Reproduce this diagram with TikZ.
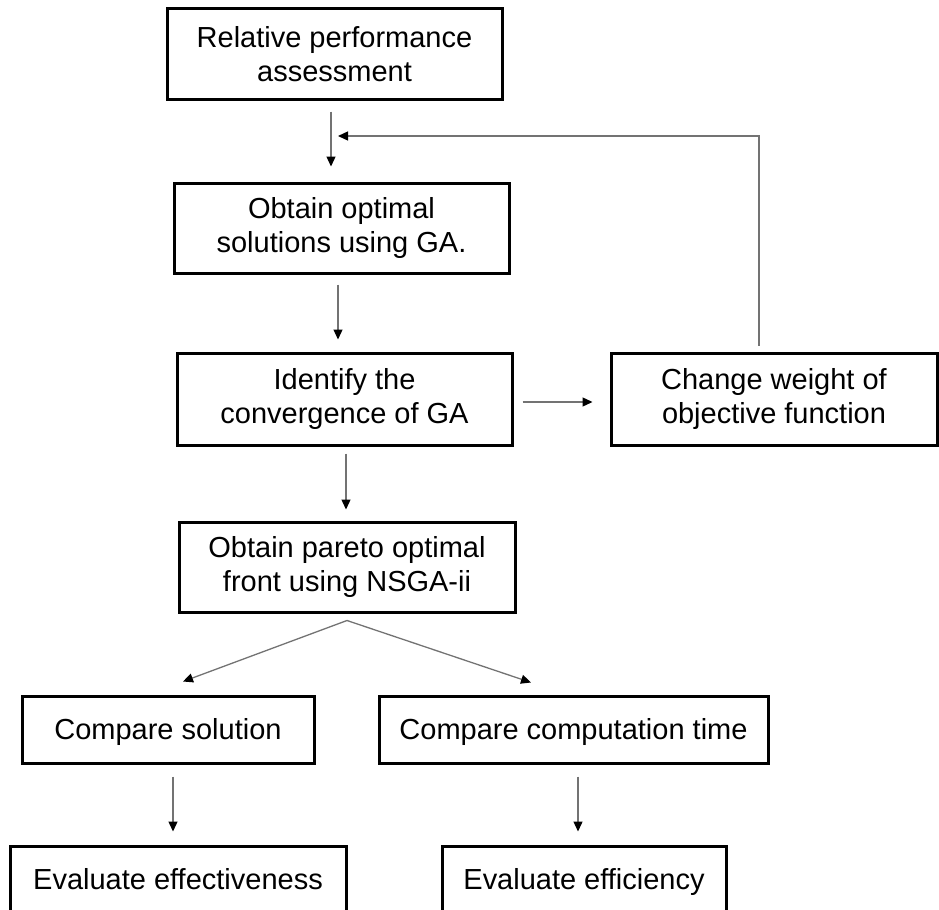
\documentclass[tikz,border=0pt]{standalone}
\usepackage{fontspec}
\setmainfont{Liberation Sans}
\usetikzlibrary{arrows.meta, positioning}

\newlength{\px}
\setlength{\px}{0.02cm}

\tikzset{
  stepbox/.style={draw=black, line width=3\px, inner sep=0pt, align=center,
    font=\fontsize{16.5}{19.5}\selectfont},
  onebox/.style={stepbox, minimum height=67\px, text height=0.415cm, text depth=0cm},
  arr/.style={draw=black!55, line width=1.3\px,
    -{Triangle[length=0.2cm, width=0.18cm, color=black]}},
}

\begin{document}
\begin{tikzpicture}[x=1\px, y=-1\px]
\useasboundingbox (0,0) rectangle (939,909);

% BOXES
\node[stepbox, minimum width=335\px, minimum height=91\px] (relperf) at (334.5,54.5) {Relative performance\\assessment};
\node[stepbox, minimum width=335\px, minimum height=90\px] (optga) at (341.5,228) {Obtain optimal\\solutions using GA.};
\node[stepbox, minimum width=335\px, minimum height=92\px] (conv) at (344.5,399) {Identify the\\convergence of GA};
\node[stepbox, minimum width=326\px, minimum height=92\px] (weight) at (774,399) {Change weight of\\objective function};
\node[stepbox, minimum width=336\px, minimum height=90\px] (pareto) at (347,567) {Obtain pareto optimal\\front using NSGA-ii};
\node[onebox, minimum width=292\px] (cmpsol) at (168,729.5) {Compare solution};
\node[onebox, minimum width=389\px] (cmptime) at (573.5,729.5) {Compare computation time};
\node[onebox, minimum width=336\px] (evaleff) at (178,879.5) {Evaluate effectiveness};
\node[onebox, minimum width=284\px] (evaleffi) at (584,879.5) {Evaluate efficiency};

% helper coordinates
\coordinate (join) at (338,136);
\coordinate (split) at ([yshift=-7\px]pareto.south);
\coordinate (s1) at ([xshift=-3.5\px,yshift=-10\px]relperf.south);
\coordinate (s2) at ([xshift=-3.5\px,yshift=-10\px]optga.south);
\coordinate (s3) at ([xshift=9\px,yshift=-3\px]conv.east);
\coordinate (s4) at ([xshift=1.5\px,yshift=-7\px]conv.south);
\coordinate (s5) at ([xshift=5\px,yshift=-12\px]cmpsol.south);
\coordinate (s6) at ([xshift=4.5\px,yshift=-12\px]cmptime.south);
\coordinate (fb) at ([xshift=-15\px,yshift=6\px]weight.north);

% EDGES
\draw[arr, shorten >=15\px] (s1) -- (s1 |- optga.north);
\draw[arr, -] (fb) |- ([xshift=7\px]join);
\draw[arr] ([xshift=8\px]join) -- (join);
\draw[arr, shorten >=12\px] (s2) -- (s2 |- conv.north);
\draw[arr, shorten >=17\px] (s3) -- (s3 -| weight.west);
\draw[arr, shorten >=11\px] (s4) -- (s4 |- pareto.north);
\draw[arr] (split) -- ([xshift=15\px,yshift=13\px]cmpsol.north);
\draw[arr] (split) -- ([xshift=-42.5\px,yshift=12\px]cmptime.north);
\draw[arr, shorten >=13\px] (s5) -- (s5 |- evaleff.north);
\draw[arr, shorten >=13\px] (s6) -- (s6 |- evaleffi.north);

\end{tikzpicture}
\end{document}
